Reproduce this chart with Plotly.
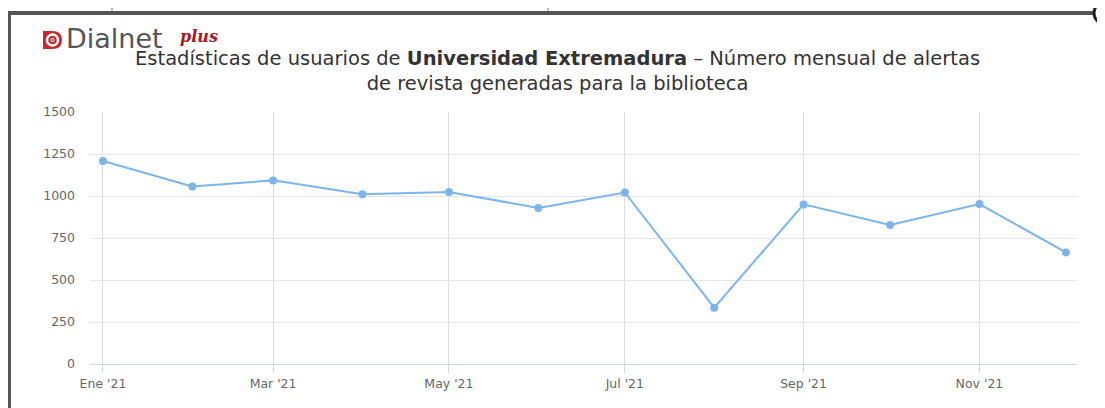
import plotly.graph_objects as go

# ---- data ----
months = ["2021-01-01", "2021-02-01", "2021-03-01", "2021-04-01", "2021-05-01", "2021-06-01",
          "2021-07-01", "2021-08-01", "2021-09-01", "2021-10-01", "2021-11-01", "2021-12-01"]
alertas = [1208, 1057, 1093, 1010, 1024, 929, 1021, 335, 950, 827, 952, 664]
tick_dates = ["2021-01-01", "2021-03-01", "2021-05-01", "2021-07-01", "2021-09-01", "2021-11-01"]
tick_labels = ["Ene '21", "Mar '21", "May '21", "Jul '21", "Sep '21", "Nov '21"]
y_ticks = [0, 250, 500, 750, 1000, 1250, 1500]

# page body has an 8px margin; screen coordinates below
OFF = 8
SW, SH = 1105, 408
L, R, T, B = 90, 1077, 112, 364
W, H = SW - OFF, SH - OFF


def px(x):
    return (x - L) / (R - L)


def py(y):
    return (B - y) / (B - T)


fig = go.Figure()
fig.add_trace(go.Scatter(
    x=months, y=alertas, mode="lines+markers",
    line=dict(color="#7cb5ec", width=2),
    marker=dict(color="#7cb5ec", size=8),
    hoverinfo="x+y", showlegend=False,
))

shapes = []
# screenshot frame
shapes.append(dict(type="rect", xref="paper", yref="paper", x0=px(8), x1=px(1098), y0=py(11), y1=py(15),
                   fillcolor="#555555", line=dict(width=0), layer="above"))
shapes.append(dict(type="rect", xref="paper", yref="paper", x0=px(8), x1=px(11), y0=py(11), y1=py(410),
                   fillcolor="#555555", line=dict(width=0), layer="above"))
shapes.append(dict(type="line", xref="paper", yref="paper", x0=px(112), x1=px(112), y0=py(8), y1=py(11),
                   line=dict(color="#777777", width=1)))
shapes.append(dict(type="line", xref="paper", yref="paper", x0=px(548), x1=px(548), y0=py(8), y1=py(11),
                   line=dict(color="#777777", width=1)))
shapes.append(dict(type="circle", xref="paper", yref="paper", x0=px(1094), x1=px(1116), y0=py(2), y1=py(24),
                   fillcolor="#ffffff", line=dict(color="#222222", width=3), layer="above"))
# Dialnet logo icon (red D shape with ring)
x0, x1, y0, y1 = 43, 62, 31, 49
path = (f"M {px(x0)},{py(y0)} L {px(52)},{py(y0)} "
        f"Q {px(x1)},{py(y0)} {px(x1)},{py(40)} "
        f"Q {px(x1)},{py(y1)} {px(52)},{py(y1)} L {px(x0)},{py(y1)} Z")
shapes.append(dict(type="path", xref="paper", yref="paper", path=path,
                   fillcolor="#c8262c", line=dict(width=0)))
shapes.append(dict(type="circle", xref="paper", yref="paper", x0=px(47), x1=px(58), y0=py(34.5), y1=py(45.5),
                   fillcolor="#c8262c", line=dict(color="#ffffff", width=2.5)))
shapes.append(dict(type="circle", xref="paper", yref="paper", x0=px(50.5), x1=px(54.5), y0=py(38), y1=py(42),
                   fillcolor="#ffffff", line=dict(width=0)))
shapes.append(dict(type="circle", xref="paper", yref="paper", x0=px(51.5), x1=px(53.5), y0=py(39), y1=py(41),
                   fillcolor="#c8262c", line=dict(width=0)))

title_text = ("Estadísticas de usuarios de <b>Universidad Extremadura</b> – Número mensual de alertas"
              "<br>de revista generadas para la biblioteca")

annotations = [
    dict(text="Dialnet", xref="paper", yref="paper", x=px(64), y=py(39), xanchor="left", yanchor="middle",
         showarrow=False, font=dict(family="DejaVu Sans", size=27, color="#555555")),
    dict(text="<b><i>plus</i></b>", xref="paper", yref="paper", x=px(178), y=py(37), xanchor="left",
         yanchor="middle", showarrow=False, font=dict(family="DejaVu Serif", size=16, color="#a8181e")),
    dict(text=title_text, align="center",
         xref="paper", yref="paper", x=px(557), y=py(71), xanchor="center", yanchor="middle",
         showarrow=False, font=dict(family="DejaVu Sans", size=19.5, color="#333333")),
]

fig.update_layout(
    width=W, height=H,
    margin=dict(l=L - OFF, r=SW - R, t=T - OFF, b=SH - B, pad=0),
    paper_bgcolor="#ffffff", plot_bgcolor="#ffffff",
    shapes=shapes, annotations=annotations,
    font=dict(family="DejaVu Sans", size=12, color="#666666"),
    xaxis=dict(
        type="date", range=["2020-12-27 12:00", "2021-12-04 20:00"],
        tickvals=tick_dates, ticktext=tick_labels,
        showgrid=True, gridcolor="#dedede", gridwidth=1,
        showline=True, linecolor="#ccd6eb", linewidth=1,
        ticks="outside", ticklen=8, tickcolor="#ccd6eb",
        tickfont=dict(family="DejaVu Sans", size=12.5, color="#666666"),
        zeroline=False, fixedrange=True,
    ),
    yaxis=dict(
        range=[0, 1500], tickvals=y_ticks,
        showgrid=True, gridcolor="#e6e6e6", gridwidth=1,
        showline=False, zeroline=False, ticks="",
        ticklabelstandoff=14,
        tickfont=dict(family="DejaVu Sans", size=12.5, color="#666666"),
        fixedrange=True,
    ),
)

fig.write_html("out.html")
